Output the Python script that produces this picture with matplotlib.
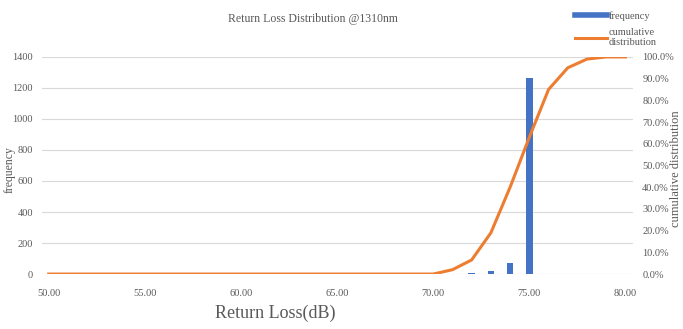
import matplotlib.pyplot as plt
from matplotlib.lines import Line2D
from matplotlib.ticker import PercentFormatter

# return loss bins (dB)
loss = list(range(50, 81))
# counts per bin, only 72-75 dB are populated
frequency = [0] * 22 + [8, 22, 73, 1265] + [0] * 5
# cumulative share per bin
cumulative = [0.0] * 21 + [0.02, 0.065, 0.19, 0.40, 0.63, 0.85, 0.95, 0.99, 1.0, 1.0]

xticks = [50, 55, 60, 65, 70, 75, 80]
xticklabels = ['50.00', '55.00', '60.00', '65.00', '70.00', '75.00', '80.00']

plt.rcParams['font.family'] = 'Liberation Serif'
grey = '#595959'
blue = '#4472C4'
orange = '#ED7D31'

fig = plt.figure(figsize=(6.83, 3.29), dpi=100)
ax = fig.add_axes([0.0615, 0.167, 0.8655, 0.66])
ax2 = ax.twinx()

ax.bar(loss, frequency, width=0.35, color=blue, zorder=3)
ax2.plot(loss, cumulative, color=orange, lw=2.2, zorder=4)

ax.set_xlim(49.65, 80.4)
ax.set_ylim(0, 1400)
ax2.set_ylim(0, 1.0)
ax.set_yticks(range(0, 1401, 200))
ax2.set_yticks([i / 10 for i in range(11)])
ax2.yaxis.set_major_formatter(PercentFormatter(1.0, decimals=1))
ax.set_xticks(xticks)
ax.set_xticklabels(xticklabels)

ax.grid(axis='y', color='#d9d9d9', lw=0.8, zorder=0)
ax.set_axisbelow(True)
for a in (ax, ax2):
    for s in a.spines.values():
        s.set_visible(False)
ax.tick_params(axis='both', length=0, labelsize=7.5, labelcolor=grey)
ax.tick_params(axis='x', pad=10.5)
ax.tick_params(axis='y', pad=6.5)
ax2.tick_params(axis='y', length=0, labelsize=7.5, labelcolor=grey, pad=6.5)
ax2.set_zorder(ax.get_zorder() + 1)

fig.text(313 / 683, 1 - 19 / 329, 'Return Loss Distribution @1310nm',
         ha='center', va='center', fontsize=8.5, color=grey)
fig.text(275 / 683, 1 - 313 / 329, 'Return Loss(dB)',
         ha='center', va='center', fontsize=13, color=grey)
fig.text(10 / 683, 1 - 170 / 329, 'frequency', rotation=90,
         ha='center', va='center', fontsize=8.5, color=grey)
fig.text(676 / 683, 1 - 169 / 329, 'cumulative distribution', rotation=90,
         ha='center', va='center', fontsize=9, color=grey)

handles = [Line2D([], [], color=blue, lw=4),
           Line2D([], [], color=orange, lw=2.2)]
fig.legend(handles, ['frequency', 'cumulative\ndistribution'],
           loc='upper left', bbox_to_anchor=(566 / 683, 0.995), frameon=False,
           fontsize=7.5, labelcolor=grey, handlelength=3.0, handletextpad=0.2,
           labelspacing=0.7)

fig.savefig('out.png', dpi=100)
